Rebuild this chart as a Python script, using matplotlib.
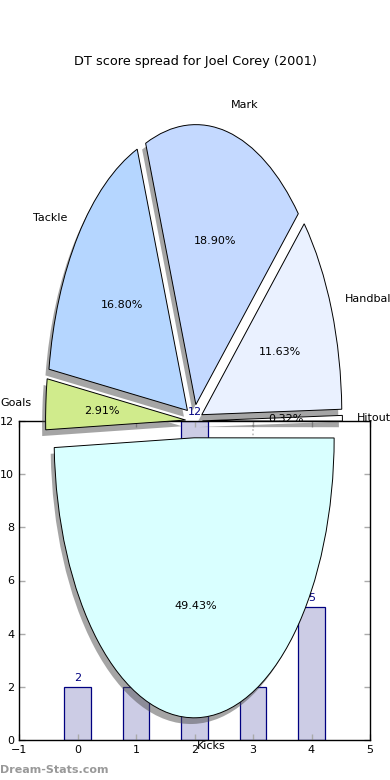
import matplotlib
matplotlib.use("Agg")
import matplotlib.pyplot as plt

# data
pie_labels = ["Kicks", "Hitout", "Handball", "Mark", "Tackle", "Goals"]
pie_values = [49.43, 0.32, 11.63, 18.90, 16.80, 2.91]
pie_colors = ["#d9ffff", "#ffffff", "#eaf1ff", "#c4d9ff", "#b5d6ff", "#d0eb8c"]
bar_x = [0, 1, 2, 3, 4]
bar_values = [2, 2, 12, 2, 5]
title = "DT score spread for Joel Corey (2001)"

plt.rcParams['font.family'] = ['DejaVu Sans']
fig = plt.figure(figsize=(3.9, 7.8), dpi=100)

# bar chart axes
axb = fig.add_axes([19/390, 40/780, 351/390, 319/780])
axb.bar(bar_x, bar_values, width=0.45, color="#ccccE5", edgecolor="#000080",
        linewidth=0.9, align="center")
for x, v in zip(bar_x, bar_values):
    axb.text(x, v + 0.15, str(v), ha="center", va="bottom", color="#000080", fontsize=8)
axb.axvline(3, color="#bbbbbb", linestyle=":", linewidth=1.2, zorder=0.5)
axb.set_xlim(-1, 5)
axb.set_ylim(0, 12)
axb.set_xticks(range(-1, 6))
axb.set_yticks(range(0, 13, 2))
axb.tick_params(direction="in", top=True, right=True, labelsize=8, length=4,
                color="#aaaaaa", width=1)
for s in axb.spines.values():
    s.set_linewidth(1.0)

# pie axes
axp = fig.add_axes([19/390, 9/780, 350/390, 700/780])
axp.patch.set_alpha(0)
wedges, texts, autotexts = axp.pie(
    pie_values, labels=pie_labels, colors=pie_colors,
    explode=[0.06] * len(pie_values), startangle=182, autopct="%.2f%%",
    shadow={"ox": -0.018, "oy": -0.016, "facecolor": "0.3", "edgecolor": "none", "alpha": 0.5},
    wedgeprops={"edgecolor": "black", "linewidth": 0.7},
    textprops={"fontsize": 8})
axp.set_aspect("auto")
axp.set_xlim(-1.25, 1.25)
axp.set_ylim(-1.25, 1.25)
axp.axis("off")

fig.text(0.5, 1 - 61/780, title, ha="center", va="center", fontsize=9.3)
fig.text(0.0, 10/780, "Dream-Stats.com", ha="left", va="center", fontsize=8,
         color="#999999", fontweight="bold")

fig.savefig("out.png", dpi=100)
